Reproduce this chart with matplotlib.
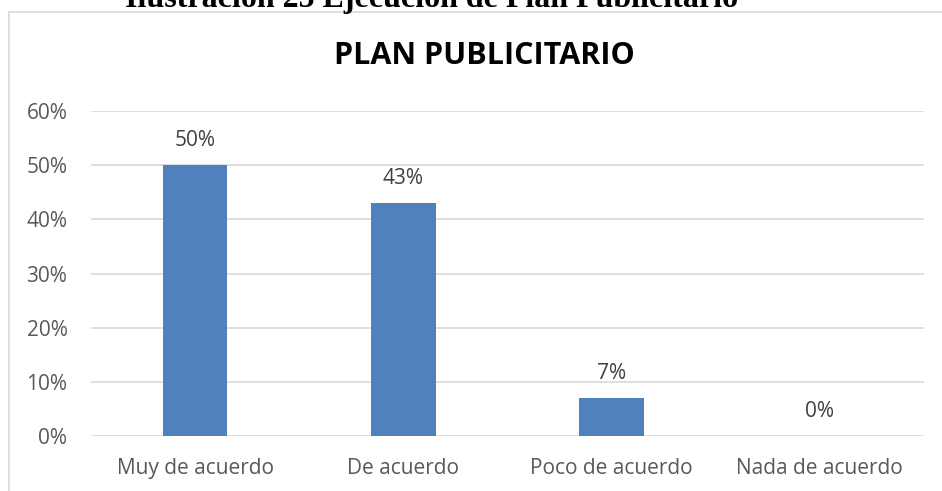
import matplotlib
matplotlib.use("Agg")
import matplotlib.pyplot as plt
from matplotlib.patches import Rectangle

categories = ["Muy de acuerdo", "De acuerdo", "Poco de acuerdo", "Nada de acuerdo"]
values = [0.50, 0.43, 0.07, 0.00]
value_labels = ["50%", "43%", "7%", "0%"]
yticks = [0.0, 0.1, 0.2, 0.3, 0.4, 0.5, 0.6]
ytick_labels = ["0%", "10%", "20%", "30%", "40%", "50%", "60%"]

font = "Open Sans"
W, H = 942, 491
fig = plt.figure(figsize=(W / 100, H / 100), dpi=100)

# outer chart border (runs off the right/bottom of the picture)
fig.patches.append(Rectangle((9 / W, -0.1), 1.2, (H - 12) / H + 0.1,
                             transform=fig.transFigure, fill=False,
                             edgecolor="#d9d9d9", linewidth=1.2))

# caption of the figure, cut at the top as in the source
fig.text(432 / W, 1 + 1 / H, "Ilustración 25 Ejecución de Plan Publicitario",
         ha="center", va="center", fontsize=23, fontweight="bold",
         family="Liberation Serif", color="black")

ax = fig.add_axes([91 / W, 55 / H, (924 - 91) / W, (436 - 111) / H])
x = range(len(categories))
bars = ax.bar(x, values, width=0.31, color="#4f81bd", zorder=3)
for b, lab in zip(bars, value_labels):
    ax.text(b.get_x() + b.get_width() / 2, b.get_height() + 0.045, lab,
            ha="center", va="center", fontsize=15, color="#404040", family=font)

ax.set_xlim(-0.5, 3.5)
ax.set_ylim(0, 0.6)
ax.set_yticks(yticks)
ax.set_yticklabels(ytick_labels, family=font, fontsize=15, color="#595959")
ax.set_xticks(list(x))
ax.set_xticklabels(categories, family=font, fontsize=15, color="#595959")
ax.tick_params(length=0)
ax.tick_params(axis="x", pad=16)
ax.tick_params(axis="y", pad=17)
ax.grid(axis="y", color="#d9d9d9", linewidth=1.2, zorder=0)
for s in ax.spines.values():
    s.set_visible(False)

fig.text(484 / W, 1 - 56 / H, "PLAN PUBLICITARIO", ha="center", va="center",
         fontsize=22, fontweight="bold", family=font, color="black")

fig.savefig("out.png", dpi=100)
